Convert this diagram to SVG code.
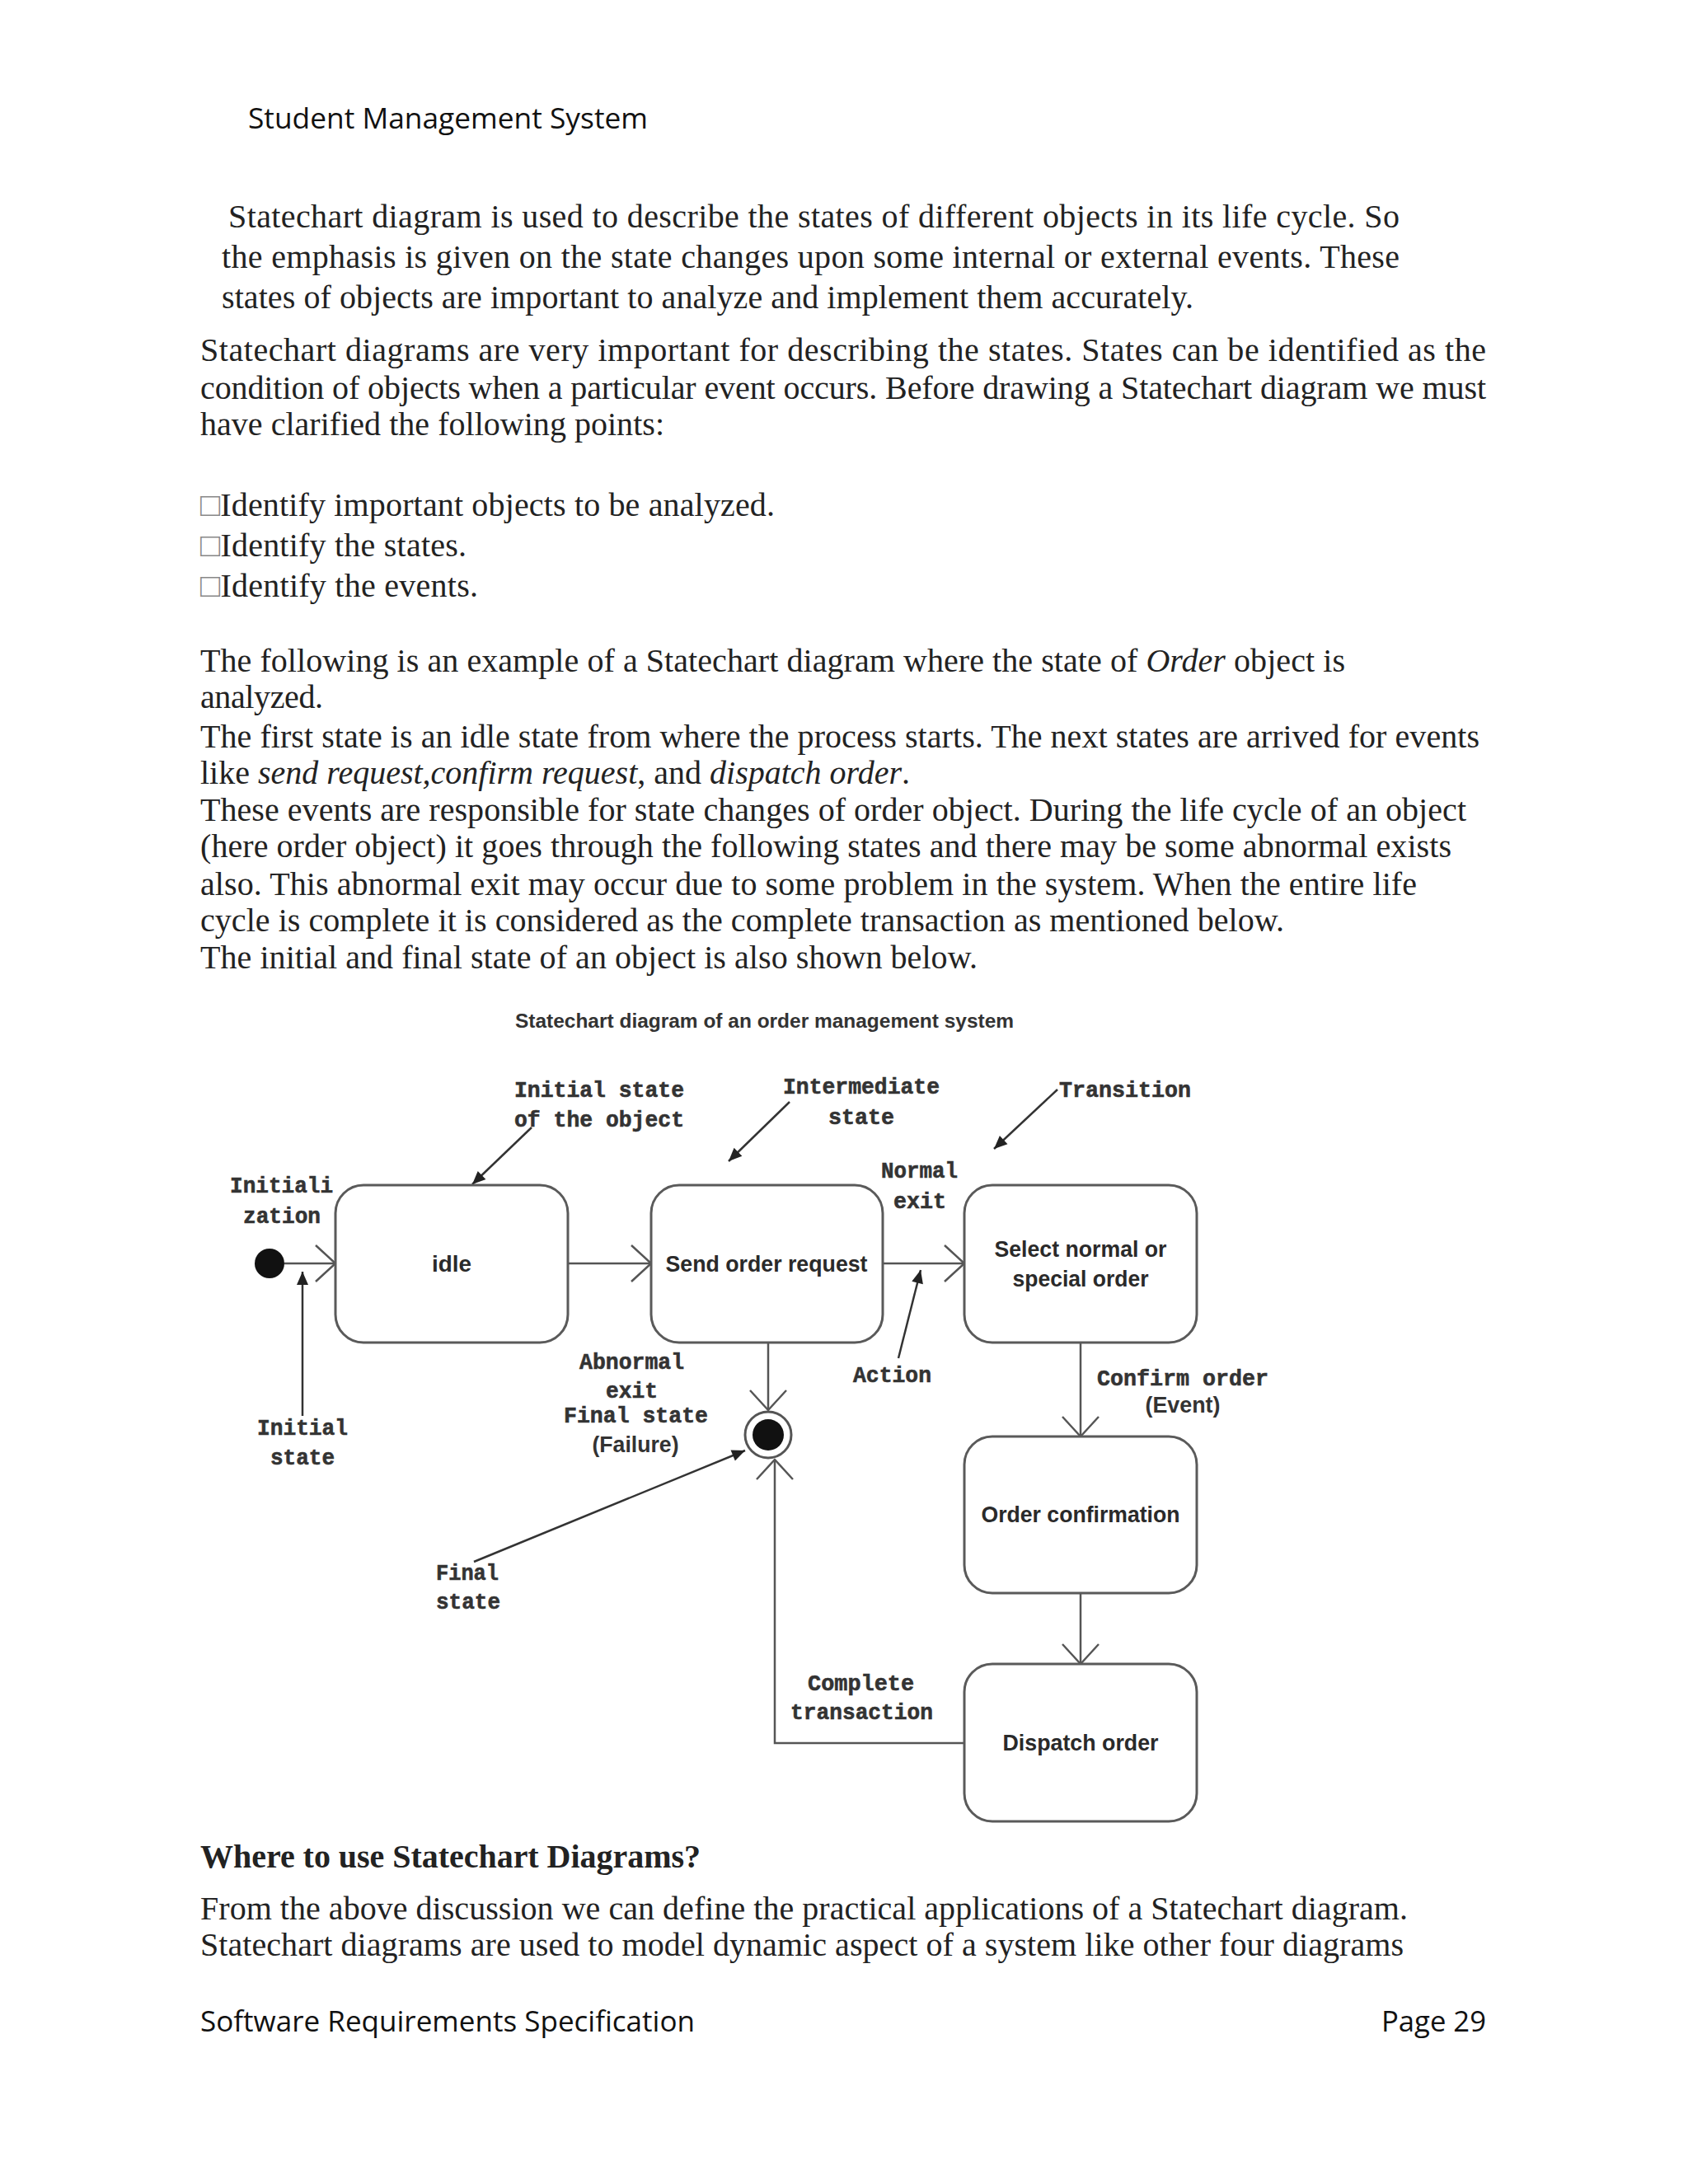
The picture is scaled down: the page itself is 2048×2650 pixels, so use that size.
<svg xmlns="http://www.w3.org/2000/svg" width="2048" height="2650" viewBox="0 0 2048 2650">
<defs>
<style>
.hdr{font-family:"Open Sans","Noto Sans",sans-serif;font-size:35px;fill:#111}
.body{font-family:"Liberation Serif","Times New Roman",serif;font-size:40px;fill:#222}
.bold{font-weight:bold}
.it{font-style:italic}
.tofu{fill:#888}
.title{font-family:"Liberation Sans",Arial,sans-serif;font-size:24px;font-weight:bold;fill:#333}
.mono{font-family:"Liberation Mono","Courier New",monospace;font-size:28px;font-weight:bold;fill:#333;stroke:#333;stroke-width:0.6}
.sans{font-family:"Liberation Sans",Arial,sans-serif;font-size:27px;font-weight:bold;fill:#333}
.lbl{font-family:"Liberation Sans",Arial,sans-serif;font-size:28px;font-weight:bold;fill:#2a2a2a;text-anchor:middle}
.box{fill:#fff;stroke:#5a5a5a;stroke-width:3}
.conn{fill:none;stroke:#555;stroke-width:2.5}
.ann{fill:none;stroke:#333;stroke-width:2.5}
</style>
<marker id="open" viewBox="-28 -26 32 52" refX="0" refY="0" markerWidth="32" markerHeight="52" markerUnits="userSpaceOnUse" orient="auto">
<path d="M-24,-22 L0,0 L-24,22" fill="none" stroke="#555" stroke-width="2.5"/>
</marker>
<marker id="fill" viewBox="-18 -9 20 18" refX="0" refY="0" markerWidth="20" markerHeight="18" markerUnits="userSpaceOnUse" orient="auto">
<path d="M-16,-7 L0,0 L-16,7 Z" fill="#222"/>
</marker>
</defs>
<rect width="2048" height="2650" fill="#fff"/>

<g id="page-text">
<text class="hdr" x="301" y="156" textLength="485" lengthAdjust="spacingAndGlyphs">Student Management System</text>

<text class="body" x="277" y="276" textLength="1421" lengthAdjust="spacing">Statechart diagram is used to describe the states of different objects in its life cycle. So</text>
<text class="body" x="269" y="325" textLength="1429" lengthAdjust="spacing">the emphasis is given on the state changes upon some internal or external events. These</text>
<text class="body" x="269" y="374" textLength="1179" lengthAdjust="spacing">states of objects are important to analyze and implement them accurately.</text>

<text class="body" x="243" y="438" textLength="1560" lengthAdjust="spacing">Statechart diagrams are very important for describing the states. States can be identified as the</text>
<text class="body" x="243" y="484" textLength="1560" lengthAdjust="spacing">condition of objects when a particular event occurs. Before drawing a Statechart diagram we must</text>
<text class="body" x="243" y="528" textLength="563" lengthAdjust="spacing">have clarified the following points:</text>

<text class="body" x="243" y="626" textLength="697" lengthAdjust="spacing"><tspan class="tofu">□</tspan>Identify important objects to be analyzed.</text>
<text class="body" x="243" y="675" textLength="323" lengthAdjust="spacing"><tspan class="tofu">□</tspan>Identify the states.</text>
<text class="body" x="243" y="724" textLength="337" lengthAdjust="spacing"><tspan class="tofu">□</tspan>Identify the events.</text>

<text class="body" x="243" y="815" textLength="1389" lengthAdjust="spacing">The following is an example of a Statechart diagram where the state of <tspan class="it">Order</tspan> object is</text>
<text class="body" x="243" y="859" textLength="149" lengthAdjust="spacing">analyzed.</text>
<text class="body" x="243" y="907" textLength="1552" lengthAdjust="spacing">The first state is an idle state from where the process starts. The next states are arrived for events</text>
<text class="body" x="243" y="951">like <tspan class="it">send request,confirm request</tspan>, and <tspan class="it">dispatch order</tspan>.</text>
<text class="body" x="243" y="996" textLength="1536" lengthAdjust="spacing">These events are responsible for state changes of order object. During the life cycle of an object</text>
<text class="body" x="243" y="1040" textLength="1518" lengthAdjust="spacing">(here order object) it goes through the following states and there may be some abnormal exists</text>
<text class="body" x="243" y="1086" textLength="1476" lengthAdjust="spacing">also. This abnormal exit may occur due to some problem in the system. When the entire life</text>
<text class="body" x="243" y="1130" textLength="1315" lengthAdjust="spacing">cycle is complete it is considered as the complete transaction as mentioned below.</text>
<text class="body" x="243" y="1175" textLength="943" lengthAdjust="spacing">The initial and final state of an object is also shown below.</text>

<text class="body bold" x="243" y="2266" textLength="607" lengthAdjust="spacing">Where to use Statechart Diagrams?</text>
<text class="body" x="243" y="2329" textLength="1465" lengthAdjust="spacing">From the above discussion we can define the practical applications of a Statechart diagram.</text>
<text class="body" x="243" y="2373" textLength="1460" lengthAdjust="spacing">Statechart diagrams are used to model dynamic aspect of a system like other four diagrams</text>

<text class="hdr" x="243" y="2465" textLength="600" lengthAdjust="spacingAndGlyphs">Software Requirements Specification</text>
<text class="hdr" x="1676" y="2465" textLength="127" lengthAdjust="spacingAndGlyphs">Page 29</text>
</g>

<g id="diagram-title">
<text class="title" x="625" y="1247" textLength="605" lengthAdjust="spacingAndGlyphs">Statechart diagram of an order management system</text>
</g>

<g id="connectors">
<line class="conn" x1="345" y1="1533" x2="407" y2="1533" marker-end="url(#open)"/>
<line class="conn" x1="689" y1="1533" x2="790" y2="1533" marker-end="url(#open)"/>
<line class="conn" x1="1071" y1="1533" x2="1170" y2="1533" marker-end="url(#open)"/>
<line class="conn" x1="932" y1="1630" x2="932" y2="1711" marker-end="url(#open)"/>
<line class="conn" x1="1311" y1="1630" x2="1311" y2="1743" marker-end="url(#open)"/>
<line class="conn" x1="1311" y1="1933" x2="1311" y2="2019" marker-end="url(#open)"/>
<polyline class="conn" points="1171,2115 940,2115 940,1771" marker-end="url(#open)"/>
<line class="ann" x1="645" y1="1368" x2="573" y2="1437" marker-end="url(#fill)"/>
<line class="ann" x1="958" y1="1337" x2="884" y2="1409" marker-end="url(#fill)"/>
<line class="ann" x1="1283" y1="1322" x2="1206" y2="1394" marker-end="url(#fill)"/>
<line class="ann" x1="1090" y1="1648" x2="1117" y2="1541" marker-end="url(#fill)"/>
<line class="ann" x1="367" y1="1718" x2="367" y2="1543" marker-end="url(#fill)"/>
<line class="ann" x1="575" y1="1895" x2="904" y2="1760" marker-end="url(#fill)"/>
</g>

<g id="initial-node">
<circle cx="327" cy="1533" r="18" fill="#111"/>
</g>

<g id="final-node">
<circle cx="932" cy="1741" r="28" fill="#fff" stroke="#555" stroke-width="3"/>
<circle cx="932" cy="1741" r="19" fill="#111"/>
</g>

<g id="state-idle">
<rect class="box" x="407" y="1438" width="282" height="191" rx="34"/>
<text class="lbl" x="548" y="1543" textLength="48" lengthAdjust="spacingAndGlyphs">idle</text>
</g>

<g id="state-send">
<rect class="box" x="790" y="1438" width="281" height="191" rx="34"/>
<text class="lbl" x="930" y="1543" textLength="245" lengthAdjust="spacingAndGlyphs">Send order request</text>
</g>

<g id="state-select">
<rect class="box" x="1170" y="1438" width="282" height="191" rx="34"/>
<text class="lbl" x="1311" y="1525" textLength="209" lengthAdjust="spacingAndGlyphs">Select normal or</text>
<text class="lbl" x="1311" y="1561" textLength="165" lengthAdjust="spacingAndGlyphs">special order</text>
</g>

<g id="state-confirmation">
<rect class="box" x="1170" y="1743" width="282" height="190" rx="34"/>
<text class="lbl" x="1311" y="1847" textLength="241" lengthAdjust="spacingAndGlyphs">Order confirmation</text>
</g>

<g id="state-dispatch">
<rect class="box" x="1170" y="2019" width="282" height="191" rx="34"/>
<text class="lbl" x="1311" y="2124" textLength="189" lengthAdjust="spacingAndGlyphs">Dispatch order</text>
</g>

<g id="annotations">
<text class="mono" x="624" y="1331" textLength="206" lengthAdjust="spacingAndGlyphs">Initial state</text>
<text class="mono" x="624" y="1367" textLength="206" lengthAdjust="spacingAndGlyphs">of the object</text>
<text class="mono" x="950" y="1327" textLength="190" lengthAdjust="spacingAndGlyphs">Intermediate</text>
<text class="mono" x="1045" y="1364" text-anchor="middle" textLength="80" lengthAdjust="spacingAndGlyphs">state</text>
<text class="mono" x="1285" y="1331" textLength="160" lengthAdjust="spacingAndGlyphs">Transition</text>
<text class="mono" x="279" y="1447" textLength="125" lengthAdjust="spacingAndGlyphs">Initiali</text>
<text class="mono" x="295" y="1484" textLength="94" lengthAdjust="spacingAndGlyphs">zation</text>
<text class="mono" x="1069" y="1429" textLength="93" lengthAdjust="spacingAndGlyphs">Normal</text>
<text class="mono" x="1084" y="1466" textLength="64" lengthAdjust="spacingAndGlyphs">exit</text>
<text class="mono" x="703" y="1661" textLength="127" lengthAdjust="spacingAndGlyphs">Abnormal</text>
<text class="mono" x="735" y="1696" textLength="63" lengthAdjust="spacingAndGlyphs">exit</text>
<text class="mono" x="684" y="1726" textLength="175" lengthAdjust="spacingAndGlyphs">Final state</text>
<text class="sans" x="771" y="1762" text-anchor="middle" textLength="105" lengthAdjust="spacingAndGlyphs">(Failure)</text>
<text class="mono" x="1035" y="1677" textLength="95" lengthAdjust="spacingAndGlyphs">Action</text>
<text class="mono" x="1331" y="1681" textLength="208" lengthAdjust="spacingAndGlyphs">Confirm order</text>
<text class="sans" x="1435" y="1714" text-anchor="middle" textLength="91" lengthAdjust="spacingAndGlyphs">(Event)</text>
<text class="mono" x="312" y="1741" textLength="110" lengthAdjust="spacingAndGlyphs">Initial</text>
<text class="mono" x="328" y="1777" textLength="78" lengthAdjust="spacingAndGlyphs">state</text>
<text class="mono" x="529" y="1917" textLength="76" lengthAdjust="spacingAndGlyphs">Final</text>
<text class="mono" x="529" y="1952" textLength="78" lengthAdjust="spacingAndGlyphs">state</text>
<text class="mono" x="980" y="2051" textLength="129" lengthAdjust="spacingAndGlyphs">Complete</text>
<text class="mono" x="959" y="2086" textLength="173" lengthAdjust="spacingAndGlyphs">transaction</text>
</g>
</svg>
